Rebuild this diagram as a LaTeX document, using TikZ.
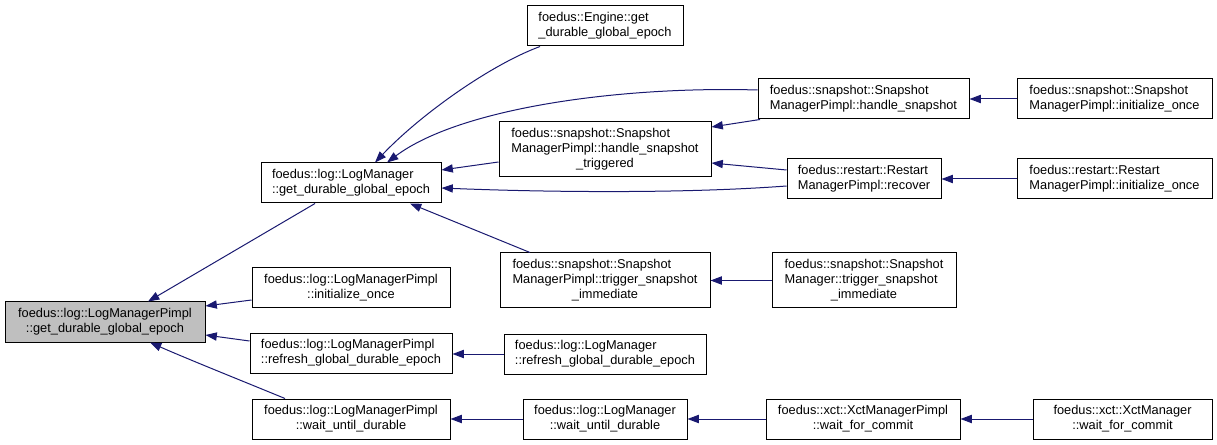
\documentclass[tikz,border=0pt]{standalone}
\usepackage{fontspec}
\setmainfont{Liberation Sans}
\usetikzlibrary{arrows.meta,calc}
\definecolor{edgecol}{HTML}{191970}
\definecolor{rootfill}{HTML}{BFBFBF}
\newcommand\twol[2]{\begin{tabular}{@{}l@{}}#1\\\multicolumn{1}{@{}c@{}}{#2}\end{tabular}}
\newcommand\threel[3]{\begin{tabular}{@{}l@{}}#1\\#2\\\multicolumn{1}{@{}c@{}}{#3}\end{tabular}}
\newcommand\bx[7]{\node[box,#1,minimum width={(#5-#3)*0.75pt},minimum height={(#6-#4)*0.75pt}] (#2) at ({(#3+#5)/2},{(#4+#6)/2}) {#7};}
\begin{document}
\begin{tikzpicture}[x=0.75pt,y=-0.75pt,
  font=\fontsize{9.6}{11}\selectfont,
  box/.style={draw=black,line width=0.75pt,inner sep=0pt,fill=white},
  rootbox/.style={fill=rootfill},
  edge/.style={draw=edgecol,line width=0.75pt,-{Triangle[length=8.5pt,width=6.2pt]}}]
\useasboundingbox (0,0) rectangle (1217,445);
\bx{rootbox}{root}{5}{302}{205}{342}{\twol{foedus::log::LogManagerPimpl}{::get\_durable\_global\_epoch}}
\bx{}{lm}{261}{163}{441}{203}{\twol{foedus::log::LogManager}{::get\_durable\_global\_epoch}}
\bx{}{engine}{527}{6}{683}{46}{\twol{foedus::Engine::get}{\_durable\_global\_epoch}}
\bx{}{hs}{758}{79}{969}{119}{\twol{foedus::snapshot::Snapshot}{ManagerPimpl::handle\_snapshot}}
\bx{}{hst}{499}{122}{711}{177}{\threel{foedus::snapshot::Snapshot}{ManagerPimpl::handle\_snapshot}{\_triggered}}
\bx{}{rec}{787}{159}{941}{199}{\twol{foedus::restart::Restart}{ManagerPimpl::recover}}
\bx{}{smpinit}{1017}{79}{1212}{119}{\twol{foedus::snapshot::Snapshot}{ManagerPimpl::initialize\_once}}
\bx{}{rmpinit}{1017}{159}{1212}{199}{\twol{foedus::restart::Restart}{ManagerPimpl::initialize\_once}}
\bx{}{tsi}{500}{253}{710}{308}{\threel{foedus::snapshot::Snapshot}{ManagerPimpl::trigger\_snapshot}{\_immediate}}
\bx{}{smtrig}{772}{253}{956}{308}{\threel{foedus::snapshot::Snapshot}{Manager::trigger\_snapshot}{\_immediate}}
\bx{}{lmpinit}{252}{268}{450}{308}{\twol{foedus::log::LogManagerPimpl}{::initialize\_once}}
\bx{}{lmpref}{250}{333}{452}{373}{\twol{foedus::log::LogManagerPimpl}{::refresh\_global\_durable\_epoch}}
\bx{}{lmpwait}{252}{399}{450}{439}{\twol{foedus::log::LogManagerPimpl}{::wait\_until\_durable}}
\bx{}{lmref}{504}{334}{706}{374}{\twol{foedus::log::LogManager}{::refresh\_global\_durable\_epoch}}
\bx{}{lmwait}{523}{399}{687}{439}{\twol{foedus::log::LogManager}{::wait\_until\_durable}}
\bx{}{xmp}{766}{399}{960}{439}{\twol{foedus::xct::XctManagerPimpl}{::wait\_for\_commit}}
\bx{}{xm}{1033}{399}{1212}{439}{\twol{foedus::xct::XctManager}{::wait\_for\_commit}}
% edges
\draw[edge] (lm.south -| 315,0) -- (root.north -| 148,0);
\draw[edge] (lmpinit.west |- 0,300) -- (root.east |- 0,306);
\draw[edge] (lmpref.west |- 0,341) -- (root.east |- 0,335);
\draw[edge] (lmpwait.north -| 285,0) .. controls (240,380) and (190,360) .. (root.south -| 150,0);
\draw[edge] (engine.south -| 540,0) .. controls (490,65) and (420,115) .. (lm.north -| 375,0);
\draw[edge] (hs.west |- 0,90) .. controls (620,86) and (460,108) .. (lm.north -| 387,0);
\draw[edge] (hst.west |- 0,162) -- (lm.east |- 0,170);
\draw[edge] (rec.west |- 0,186) .. controls (680,194) and (540,192) .. (lm.east |- 0,188);
\draw[edge] (tsi.north -| 530,0) -- (lm.south -| 410,0);
\draw[edge] (hs.south -| 760,0) -- (hst.east |- 0,127);
\draw[edge] (rec.west |- 0,170) -- (hst.east |- 0,163);
\draw[edge] (smpinit.west) -- (hs.east);
\draw[edge] (rmpinit.west) -- (rec.east);
\draw[edge] (smtrig.west) -- (tsi.east);
\draw[edge] (lmref.west) -- (lmpref.east |- lmref.west);
\draw[edge] (lmwait.west) -- (lmpwait.east);
\draw[edge] (xmp.west) -- (lmwait.east);
\draw[edge] (xm.west) -- (xmp.east);
\end{tikzpicture}
\end{document}
